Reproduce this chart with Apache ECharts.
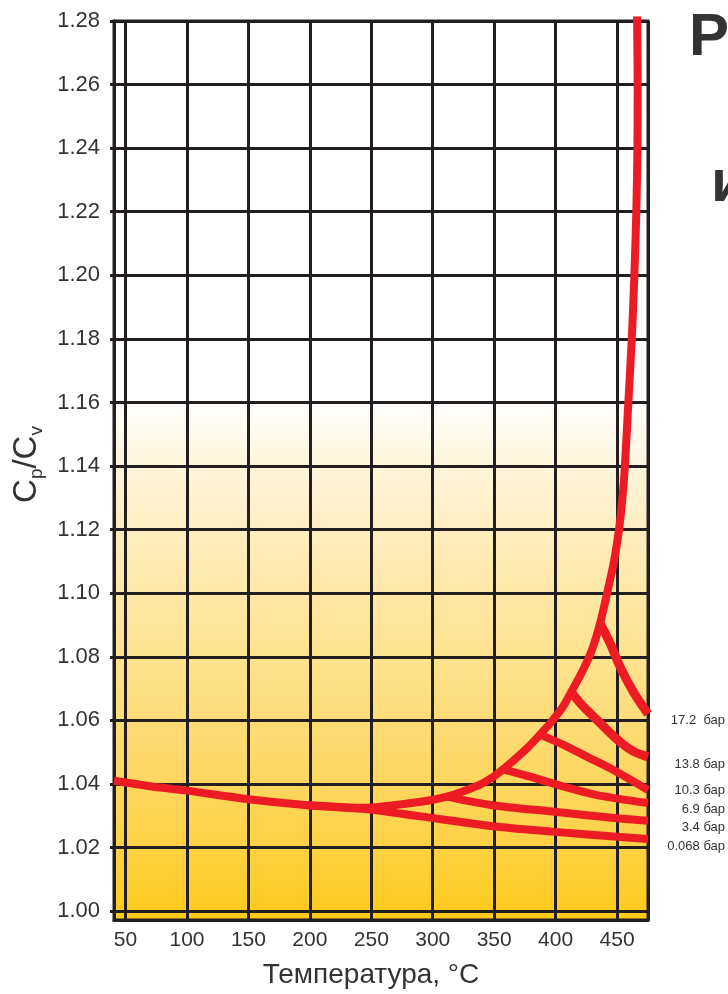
<!DOCTYPE html>
<html><head><meta charset="utf-8">
<script src="https://cdn.jsdelivr.net/npm/echarts@6/dist/echarts.min.js"></script>
<style>html,body{margin:0;padding:0;background:#fff}#c{width:728px;height:994px}</style>
</head><body><div id="c"></div>
<script>
// ---- data (temperature °C, Cp/Cv) ----
const xTickValues = [50, 100, 150, 200, 250, 300, 350, 400, 450];
const yTickValues = [1.00, 1.02, 1.04, 1.06, 1.08, 1.10, 1.12, 1.14, 1.16, 1.18, 1.20, 1.22, 1.24, 1.26, 1.28];

// 0.068 bar isobar (runs across the whole chart)
const p0068_T = [40.6, 70, 100, 150, 198, 247, 290, 347, 397, 450, 475.2];
const p0068_k = [1.0410, 1.0393, 1.0379, 1.0352, 1.0333, 1.0320, 1.0298, 1.0268, 1.0250, 1.0234, 1.0227];

// saturation envelope
const sat_T = [198, 247, 270, 297, 311.6, 322.2, 338.5, 348.3, 357.2, 366.9, 377.5, 387.3, 397.1, 406, 412.5, 421.5, 429.6, 436.2, 441.9, 447.5, 451.6, 454.4, 456.4, 459.2, 462.0, 464.1, 465.7, 466.6, 466.8, 466.3];
const sat_k = [1.0333, 1.0325, 1.0334, 1.0348, 1.0360, 1.0373, 1.0398, 1.0420, 1.0446, 1.0478, 1.0515, 1.0555, 1.0598, 1.0643, 1.0688, 1.0752, 1.0822, 1.0905, 1.1000, 1.1100, 1.1200, 1.1300, 1.1400, 1.1600, 1.1800, 1.2000, 1.2200, 1.2400, 1.2600, 1.2814];

const p34_T = [311.6, 347.2, 397.3, 449.7, 475.2];
const p34_k = [1.0360, 1.0334, 1.0313, 1.0292, 1.0284];

const p69_T = [357.2, 379.2, 406.3, 433.5, 475.2];
const p69_k = [1.0446, 1.0423, 1.0392, 1.0365, 1.0340];

const p103_T = [387.3, 406.3, 425.3, 447, 475.2];
const p103_k = [1.0555, 1.0523, 1.0486, 1.0444, 1.0381];

const p138_T = [412.5, 421, 433.7, 450, 463, 475.2];
const p138_k = [1.0690, 1.0650, 1.0601, 1.0540, 1.0503, 1.0485];

const p172_T = [436.2, 444.3, 452.4, 463.2, 475.2];
const p172_k = [1.0905, 1.0843, 1.0769, 1.0690, 1.0620];

const pressureLabels = ['17.2  бар', '13.8 бар', '10.3 бар', '6.9 бар', '3.4 бар', '0.068 бар'];

// ---- chart ----
const zip = (a, b) => a.map((v, i) => [v, b[i]]);
const RED = '#ed1c24';
const INK = '#231f20';
const TXT = '#333333';
const FONT = "'Liberation Sans', Arial, sans-serif";

function lineSeries(name, T, k, w, smooth, clip) {
  return {
    name, type: 'line', data: zip(T, k), showSymbol: false, symbol: 'none',
    smooth: smooth, clip: clip !== false, z: 5,
    lineStyle: { color: RED, width: w, cap: 'butt', join: 'round' },
    emphasis: { disabled: true }, silent: true
  };
}

const chart = echarts.init(document.getElementById('c'), null, { renderer: 'canvas' });

const labelYs = [720.7, 764, 790.7, 809.3, 827.7, 846.7];

const option = {
  animation: false,
  backgroundColor: '#ffffff',
  grid: {
    left: 114, top: 21, width: 534, height: 899,
    containLabel: false, outerBoundsMode: 'none',
    show: true, borderColor: INK, borderWidth: 3,
    backgroundColor: {
      type: 'linear', x: 0, y: 0, x2: 0, y2: 1,
      colorStops: [
        { offset: 0, color: '#ffffff' },
        { offset: 0.42, color: '#ffffff' },
        { offset: 0.50, color: '#fef4d9' },
        { offset: 0.637, color: '#fee8a6' },
        { offset: 0.778, color: '#fddc78' },
        { offset: 0.921, color: '#fdd143' },
        { offset: 1, color: '#fdca16' }
      ]
    }
  },
  xAxis: {
    type: 'value', min: 40.6, max: 475.2,
    splitNumber: 9, minInterval: 50, maxInterval: 50,
    name: 'Температура, °C', nameLocation: 'middle', nameGap: 41,
    nameTextStyle: { fontFamily: FONT, fontSize: 28, color: TXT, padding: [0, 20, 0, 0] },
    axisLine: { show: true, lineStyle: { color: INK, width: 3 } },
    axisTick: { show: false },
    axisLabel: {
      showMinLabel: false, showMaxLabel: false, margin: 10,
      fontFamily: FONT, fontSize: 21, color: TXT,
      formatter: v => (xTickValues.indexOf(Math.round(v)) >= 0 ? String(Math.round(v)) : '')
    },
    splitLine: { show: true, lineStyle: { color: INK, width: 3 } }
  },
  yAxis: {
    type: 'value', min: 0.9972, max: 1.28,
    splitNumber: 14, minInterval: 0.02, maxInterval: 0.02,
    name: '{c|C}{s|p}{c|/C}{s|v}', nameLocation: 'middle', nameGap: 65, nameRotate: 90,
    nameTextStyle: {
      color: TXT, padding: [0, 0, 0, 12],
      rich: {
        c: { fontFamily: FONT, fontSize: 33, color: TXT, lineHeight: 38 },
        s: { fontFamily: FONT, fontSize: 19, color: TXT, verticalAlign: 'bottom', lineHeight: 19 }
      }
    },
    axisLine: { show: true, lineStyle: { color: INK, width: 3 } },
    axisTick: { show: true, length: 4, lineStyle: { color: INK, width: 3 } },
    axisLabel: {
      showMinLabel: false, margin: 14,
      fontFamily: FONT, fontSize: 22, color: TXT,
      formatter: v => v.toFixed(2)
    },
    splitLine: { show: true, lineStyle: { color: INK, width: 3 } }
  },
  series: [
    lineSeries('0.068 бар', p0068_T, p0068_k, 8, 0.3),
    lineSeries('saturation', sat_T, sat_k, 8, 0.3, false),
    lineSeries('3.4 бар', p34_T, p34_k, 8, 0.3),
    lineSeries('6.9 бар', p69_T, p69_k, 8, 0.3),
    lineSeries('10.3 бар', p103_T, p103_k, 8, 0.3),
    lineSeries('13.8 бар', p138_T, p138_k, 9, 0.3),
    lineSeries('17.2 бар', p172_T, p172_k, 9, 0.3)
  ],
  graphic: [
    ...pressureLabels.map((t, i) => ({
      type: 'text', x: 725, y: labelYs[i], silent: true,
      style: { text: t, fill: TXT, font: "13px 'Liberation Sans', Arial, sans-serif", textAlign: 'right', textVerticalAlign: 'middle' }
    })),
    { type: 'text', x: 689, y: 38, silent: true,
      style: { text: 'Ра', fill: '#333333', font: "bold 60px 'Liberation Sans', Arial, sans-serif", textAlign: 'left', textVerticalAlign: 'middle' } },
    { type: 'text', x: 711, y: 184, silent: true,
      style: { text: 'и', fill: '#333333', font: "bold 60px 'Liberation Sans', Arial, sans-serif", textAlign: 'left', textVerticalAlign: 'middle' } }
  ]
};
chart.setOption(option);
</script>
</body></html>
